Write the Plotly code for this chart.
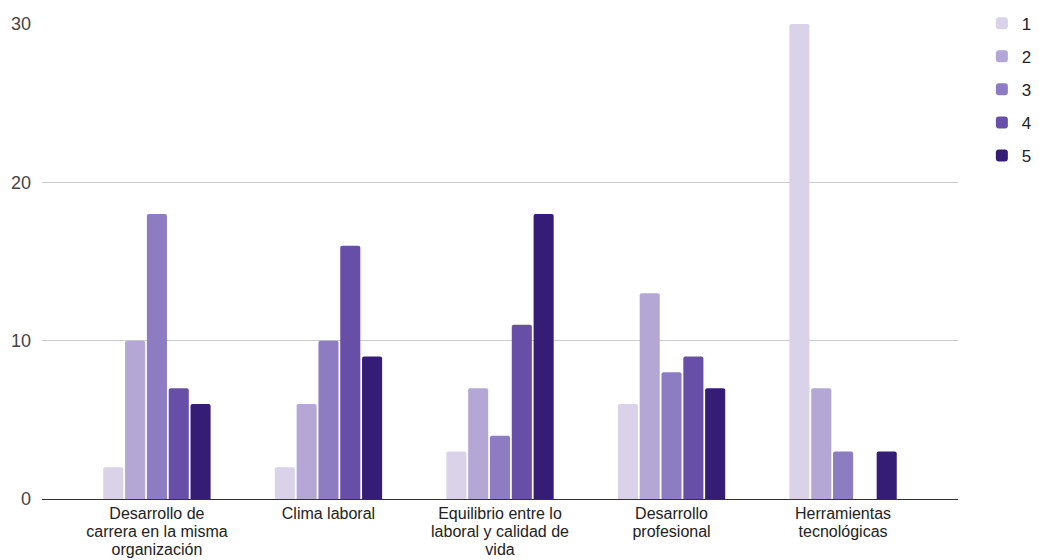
import plotly.graph_objects as go

categories = [
    "Desarrollo de<br>carrera en la misma<br>organización",
    "Clima laboral",
    "Equilibrio entre lo<br>laboral y calidad de<br>vida",
    "Desarrollo<br>profesional",
    "Herramientas<br>tecnológicas",
]
series_names = ["1", "2", "3", "4", "5"]
s1 = [2, 2, 3, 6, 30]
s2 = [10, 6, 7, 13, 7]
s3 = [18, 10, 4, 8, 3]
s4 = [7, 16, 11, 9, 0]
s5 = [6, 9, 18, 7, 3]
series_values = [s1, s2, s3, s4, s5]
colors = ["#d9d2e9", "#b4a7d6", "#8e7cc3", "#674ea7", "#351c75"]
y_ticks = [0, 10, 20, 30]

# tight line spacing: small base font, larger inner span
tick_text = [
    "<br>".join('<span style="font-size:16px">%s</span>' % ln for ln in c.split("<br>"))
    for c in categories
]

fig = go.Figure()
for i, (name, vals) in enumerate(zip(series_names, series_values)):
    fig.add_trace(go.Bar(
        x=categories, y=vals, name=name, marker_color=colors[i],
        marker_line_width=0, legendgroup=name,
    ))

fig.update_layout(
    width=1039, height=560,
    margin=dict(l=42, r=81, t=24, b=61, autoexpand=False),
    paper_bgcolor="white", plot_bgcolor="white",
    barmode="group", bargap=0.364, bargroupgap=0.08,
    barcornerradius=2,
    font=dict(family="Liberation Sans, Arial, sans-serif", size=18, color="#444"),
    legend=dict(
        xref="container", yref="container",
        x=0.945, y=0.99, xanchor="left", yanchor="top",
        font=dict(size=17, color="#222"),
        tracegroupgap=8, itemwidth=30,
    ),
    showlegend=True,
)
fig.update_xaxes(
    type="category", range=[-0.67, 4.67], automargin=False,
    tickvals=categories, ticktext=tick_text,
    showgrid=False, showline=True, linecolor="#333", linewidth=1,
    tickfont=dict(size=14, color="#222"), ticks="", ticklabelstandoff=2,
)
fig.update_yaxes(
    range=[0, 30], tickvals=y_ticks, showgrid=True, gridcolor="#cccccc",
    zeroline=False, ticklabelstandoff=10, automargin=False,
    tickfont=dict(size=18, color="#444"),
)

fig.write_html("out.html")
